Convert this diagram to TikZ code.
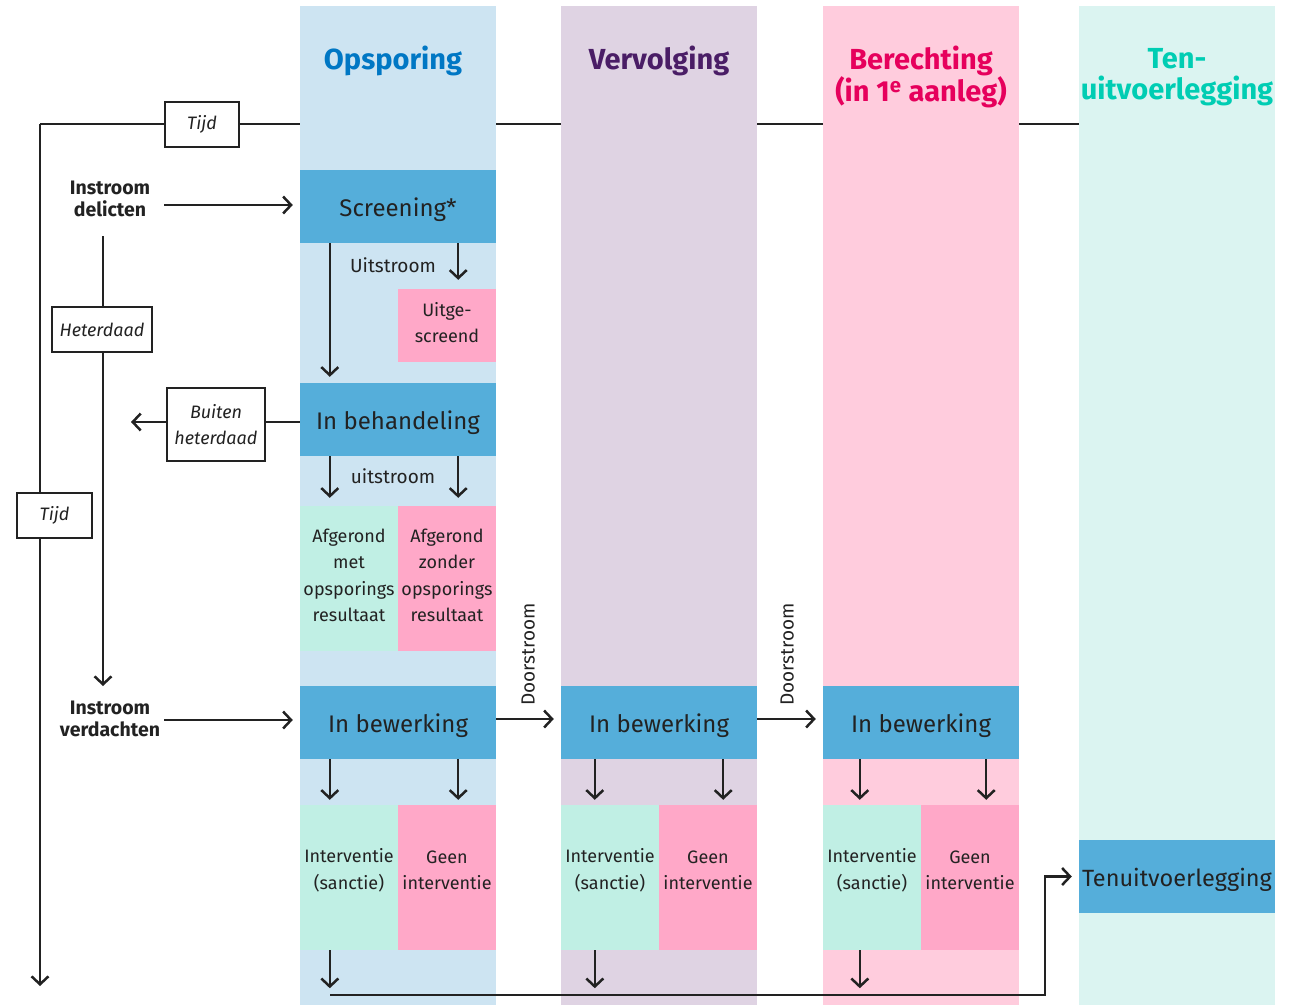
\documentclass[tikz,border=0pt]{standalone}
\usepackage{fontspec}
\setmainfont{Fira Sans}
\usetikzlibrary{arrows.meta}
\definecolor{opbg}{HTML}{CDE4F2}
\definecolor{vvbg}{HTML}{DFD3E3}
\definecolor{bebg}{HTML}{FFCCDD}
\definecolor{tubg}{HTML}{DBF4F1}
\definecolor{boxblue}{HTML}{55AEDA}
\definecolor{mintbox}{HTML}{C0EFE4}
\definecolor{pinkbox}{HTML}{FFA8C8}
\definecolor{tOp}{HTML}{0077C4}
\definecolor{tVv}{HTML}{4A1D66}
\definecolor{tBe}{HTML}{E6005C}
\definecolor{tTu}{HTML}{00CDB3}
\definecolor{ink}{HTML}{222222}
\tikzset{
  column/.style={fill=#1, draw=none, minimum width=196, minimum height=999, inner sep=0, anchor=north west},
  title/.style={text=#1, font=\fontsize{29}{31}\selectfont\bfseries, align=center, inner sep=0},
  bluebox/.style={fill=boxblue, minimum width=196, minimum height=73, inner sep=0, text=ink, text height=22, text depth=2, font=\fontsize{24}{28}\selectfont},
  halfbox/.style={fill=#1, minimum width=98, minimum height=146, inner sep=0, text=ink, align=center, font=\fontsize{18}{26.5}\selectfont},
  halftext/.style={inner sep=0, text=ink, align=center, font=\fontsize{18}{26.5}\selectfont},
  tijdbox/.style={draw=ink, fill=white, line width=2.5pt, inner sep=0, text=ink, font=\fontsize{18}{26}\selectfont\itshape, align=center},
  lbl/.style={text=ink, inner sep=0, font=\fontsize{19}{22}\selectfont},
  instr/.style={text=ink, inner sep=0, align=center, font=\fontsize{19.5}{21.5}\selectfont\bfseries},
  conn/.style={draw=ink, line width=2.5pt},
  arr/.style={conn, -{Straight Barb[length=8pt,width=17pt]}},
}
\begin{document}
\begin{tikzpicture}[x=1pt,y=-1pt]
\useasboundingbox (0,0) rectangle (1292,1005);
% time line (behind the columns)
\coordinate (t0) at (40,124);
\coordinate (t1) at (1079,124);
\coordinate (tb) at (40,986);
\draw[conn] (t1) -- (t0);
\draw[arr] (t0) -- (tb);
% columns
\node[column=opbg] (cOp) at (300,6) {};
\node[column=vvbg] (cVv) at (561,6) {};
\node[column=bebg] (cBe) at (823,6) {};
\node[column=tubg] (cTu) at (1079,6) {};
% titles
\node[title=tOp] at (393,61) {Opsporing};
\node[title=tVv] at (659,61) {Vervolging};
\node[title=tBe] at (921,77) {Berechting\\(in 1\textsuperscript{e} aanleg)};
\node[title=tTu] at (1177,77) {Ten-\\uitvoerlegging};
% Tijd boxes
\node[tijdbox, minimum width=74, minimum height=45] (tijd1) at (202,124.5) {Tijd};
\node[tijdbox, minimum width=75, minimum height=45] (tijd2) at (54.5,515.5) {Tijd};
% Opsporing column
\node[bluebox] (scr) at (398,206.5) {Screening*};
\node[lbl] (uit1) at (393,265) {Uitstroom};
\node[halfbox=pinkbox, minimum height=73] (uitg) at (447,325.5) {};
\node[halftext] at ([yshift=3]uitg.center) {Uitge-\\screend};
\node[bluebox] (beh) at (398,419.5) {In behandeling};
\node[lbl] (uit2) at (393,476) {uitstroom};
\node[halfbox=mintbox, minimum height=145] (afm) at (349,578.5) {};
\node[halftext] at ([yshift=3]afm.center) {Afgerond\\met\\opsporings\\resultaat};
\node[halfbox=pinkbox, minimum height=145] (afz) at (447,578.5) {};
\node[halftext] at ([yshift=3]afz.center) {Afgerond\\zonder\\opsporings\\resultaat};
\node[bluebox] (bw1) at (398,722.5) {In bewerking};
% Vervolging / Berechting columns
\node[bluebox] (bw2) at (659,722.5) {In bewerking};
\node[bluebox] (bw3) at (921,722.5) {In bewerking};
\foreach \n/\x in {1/349, 2/610, 3/872}{
  \node[halfbox=mintbox, minimum height=145] (i\n) at (\x,877.5) {};
  \node[halftext] at ([yshift=7]i\n.center) {Interventie\\(sanctie)};
  \node[halfbox=pinkbox, minimum height=145] (g\n) at (\x+98,877.5) {};
  \node[halftext] at ([yshift=7]g\n.center) {Geen\\interventie};
}
% Tenuitvoerlegging
\node[bluebox, font=\fontsize{23.5}{28}\selectfont] (tu) at (1177,876.5) {Tenuitvoerlegging};
% left side
\node[instr] (idel) at (110,199) {Instroom\\delicten};
\node[instr] (iver) at (110,719) {Instroom\\verdachten};
\node[tijdbox, minimum width=100, minimum height=45] (het) at (102,329.5) {Heterdaad};
\node[tijdbox, minimum width=98, minimum height=73] (bui) at (216,424.5) {Buiten\\heterdaad};
\coordinate (delEnd) at (164,205);
\coordinate (verEnd) at (164,720);
\coordinate (hetTop) at (103,236);
\coordinate (hetEnd) at (103,686);
\coordinate (buiEnd) at (131,422);
% flows on the left
\draw[arr] (delEnd) -- ([xshift=-7]scr.west |- delEnd);
\draw[arr] (verEnd) -- ([xshift=-7]bw1.west |- verEnd);
\draw[conn] (hetTop) -- (het.north -| hetTop);
\draw[arr] (het.south -| hetTop) -- (hetEnd);
\draw[conn] (beh.west |- buiEnd) -- (bui.east |- buiEnd);
\draw[arr] (bui.west |- buiEnd) -- (buiEnd);
% arrows inside Opsporing
\draw[arr] ([xshift=30]scr.south west) -- ([xshift=30,yshift=6]beh.north west);
\draw[arr] ([xshift=-38]scr.south east) -- ([xshift=-38,yshift=9]uitg.north east);
\draw[arr] ([xshift=30]beh.south west) -- ([xshift=30,yshift=8]afm.north west);
\draw[arr] ([xshift=-38]beh.south east) -- ([xshift=-38,yshift=8]afz.north east);
\foreach \b/\i/\g/\l/\r in {bw1/i1/g1/30/38, bw2/i2/g2/34/34, bw3/i3/g3/37/33}{
  \draw[arr] ([xshift=\l]\b.south west) -- ([xshift=\l,yshift=5]\i.north west);
  \draw[arr] ([xshift=-\r]\b.south east) -- ([xshift=-\r,yshift=5]\g.north east);
  \draw[arr] ([xshift=\l]\i.south west) -- ++(0,38);
}
% doorstroom
\draw[arr] (bw1.east |- 0,719) -- ([xshift=-7]bw2.west |- 0,719);
\draw[arr] (bw2.east |- 0,719) -- ([xshift=-7]bw3.west |- 0,719);
\node[lbl, rotate=90, anchor=south west] at (535,706) {Doorstroom};
\node[lbl, rotate=90, anchor=south west] at (794,706) {Doorstroom};
% to tenuitvoerlegging
\coordinate (bstart) at (330,995);
\coordinate (bcorner) at (1045,995);
\draw[arr] (bstart) -- (bcorner) |- ([xshift=-7]tu.west);
\end{tikzpicture}
\end{document}
